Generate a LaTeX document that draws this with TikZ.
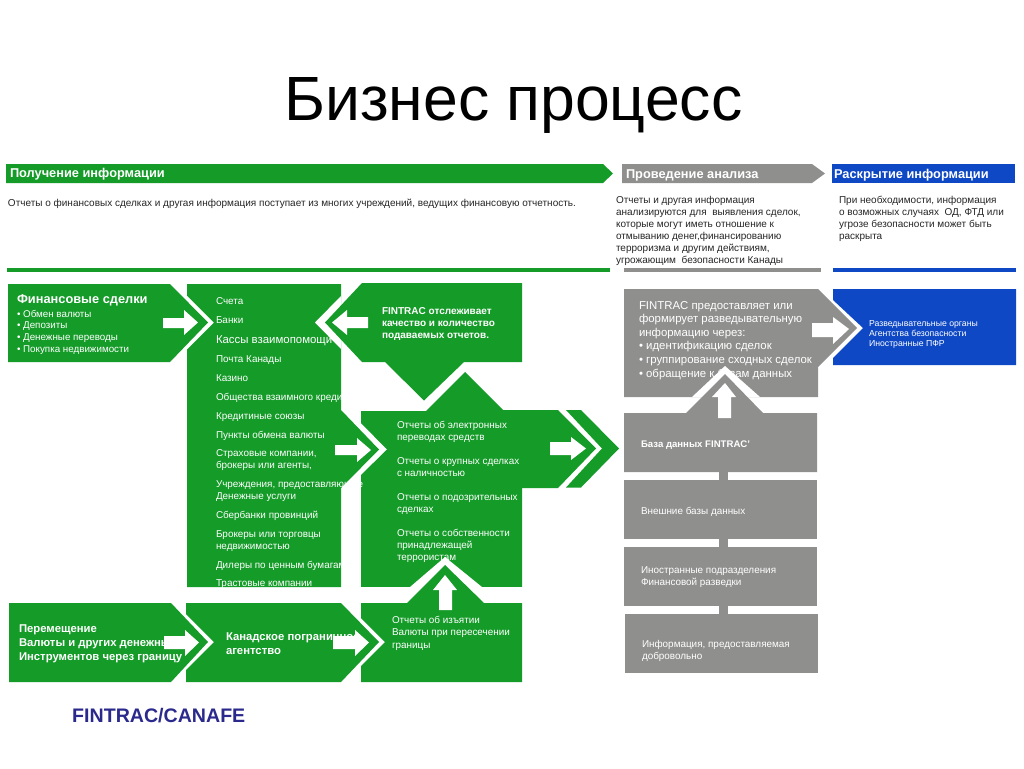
\documentclass[tikz,border=0pt]{standalone}
\usepackage{fontspec}
\setmainfont{Liberation Sans}
\definecolor{fgreen}{RGB}{20,155,40}
\definecolor{fgray}{RGB}{143,144,142}
\definecolor{fblue}{RGB}{14,72,196}
\definecolor{fnavy}{RGB}{43,42,140}
\newcommand\fsz[2]{\fontsize{#1}{#2}\selectfont}
\tikzset{
  gshape/.style={fill=fgreen,draw=none},
  yshape/.style={fill=fgray,draw=none},
  bshape/.style={fill=fblue,draw=none},
  wshape/.style={fill=white,draw=none},
  txt/.style={anchor=base west,inner sep=0pt,outer sep=0pt,align=left,text=white},
  dark/.style={txt,text=black!85,font=\fsz{10}{12}},
  item/.style={txt,font=\fsz{9.9}{12}},
  head/.style={txt,font=\bfseries\fsz{12.8}{14}},
  boldsm/.style={txt,font=\bfseries\fsz{10}{12}},
  boldbig/.style={txt,font=\bfseries\fsz{11.3}{14.3}},
  grayt/.style={txt,font=\fsz{9.9}{12}},
}
\begin{document}
\begin{tikzpicture}[x=1pt,y=-1pt]
\useasboundingbox (0,0) rectangle (1024,768);
\fill[white] (0,0) rectangle (1024,768);

\node[anchor=base west,inner sep=0pt,font=\fsz{62.5}{70},text=black] (title) at (284,120) {Бизнес процесс};

% header bars
\path[gshape] (6,164) -- (603,164) -- (613,173.5) -- (603,183) -- (6,183) -- cycle;
\path[yshape] (622,164) -- (812,164) -- (825,173.5) -- (812,183) -- (622,183) -- cycle;
\path[bshape] (832,164) rectangle (1015,183);
\node[head] (h1) at (10,177.5) {Получение информации};
\node[head] (h2) at (626,178) {Проведение анализа};
\node[head] (h3) at (834,178) {Раскрытие информации};

\node[dark] (d1) at (8,206) {Отчеты о финансовых сделках и другая информация поступает из многих учреждений, ведущих финансовую отчетность.};
\node[dark] (d2) at (616,263) {Отчеты и другая информация\\анализируются для\ \ выявления сделок,\\которые могут иметь отношение к\\отмыванию денег,финансированию\\терроризма и другим действиям,\\угрожающим\ \ безопасности Канады};
\node[dark] (d3) at (839,239) {При необходимости, информация\\о возможных случаях\ \ ОД, ФТД или\\угрозе безопасности может быть\\раскрыта};

% rules
\path[gshape] (7,268) rectangle (610,272);
\path[yshape] (624,268) rectangle (821,272);
\path[bshape] (833,268) rectangle (1016,272);

% green shapes
\path[gshape] (8,284) -- (170,284) -- (208,322.5) -- (170,362) -- (8,362) -- cycle;
\path[gshape] (187,284) -- (341,284) -- (341,410) -- (379,449.5) -- (341,488) -- (341,587) -- (187,587) -- (187,349.5) -- (214,322.5) -- (187,295.5) -- cycle;
\path[wshape] (341,296) -- (315,322.5) -- (341,349) -- cycle;
\path[gshape] (362,283) -- (522,283) -- (522,362) -- (464,362) -- (424,400.5) -- (385,362) -- (362,362) -- (325,322.5) -- cycle;
\path[gshape] (361,411) -- (426,411) -- (465,372) -- (503,410) -- (558,410) -- (596,448.5) -- (558,488) -- (522,488) -- (522,587) -- (361,587) -- (361,475) -- (387,449.5) -- (361,423) -- cycle;
\path[gshape] (566,410) -- (581,410) -- (619,448.5) -- (581,487.5) -- (566,487.5) -- (602,448.5) -- cycle;
\path[gshape] (9,603) -- (171,603) -- (208,642) -- (171,682) -- (9,682) -- cycle;
\path[gshape] (186,603) -- (341,603) -- (379,642) -- (341,682) -- (186,682) -- (186,670) -- (214,642) -- (186,614) -- cycle;

% grey and blue shapes
\path[yshape] (624,289) -- (818,289) -- (857,328) -- (818,367) -- (818,397) -- (624,397) -- cycle;
\path[bshape] (833,289) -- (1016,289) -- (1016,365) -- (833,365) -- (833,358) -- (863,328) -- (833,300) -- cycle;
\path[yshape] (719,472) rectangle (728,480);
\path[yshape] (719,539) rectangle (728,547);
\path[yshape] (719,606) rectangle (728,614);
\path[yshape] (624,480) rectangle (817,539);
\path[yshape] (624,547) rectangle (817,606);
\path[yshape] (625,614) rectangle (818,673);

% texts inside shapes
\node[txt,font=\bfseries\fsz{12.8}{14}] (f0) at (17,303.5) {Финансовые сделки};
\node[txt,font=\fsz{9.8}{11.8}] (f1) at (17,352.4) {• Обмен валюты\\• Депозиты\\• Денежные переводы\\• Покупка недвижимости};

\node[item] (b1) at (216,304) {Счета};
\node[item] (b2) at (216,323) {Банки};
\node[txt,font=\fsz{11.4}{12}] (b3) at (216,343) {Кассы взаимопомощи};
\node[item] (b4) at (216,362) {Почта Канады};
\node[item] (b5) at (216,381) {Казино};
\node[item] (b6) at (216,400) {Общества взаимного креди};
\node[item] (b7) at (216,419) {Кредитиные союзы};
\node[item] (b8) at (216,438) {Пункты обмена валюты};
\node[item] (b9) at (216,468.5) {Страховые компании,\\брокеры или агенты,};
\node[item] (b10) at (216,499) {Учреждения, предоставляющие\\Денежные услуги};
\node[item] (b11) at (216,518) {Сбербанки провинций};
\node[item] (b12) at (216,549) {Брокеры или торговцы\\недвижимостью};
\node[item] (b13) at (216,568) {Дилеры по ценным бумагам};
\node[item] (b14) at (216,586) {Трастовые компании};

\node[boldsm] (q) at (382,338.5) {FINTRAC отслеживает\\качество и количество\\подаваемых отчетов.};

\node[item] (r1) at (397,440.5) {Отчеты об электронных\\переводах средств};
\node[item] (r2) at (397,476.5) {Отчеты о крупных сделках\\с наличностью};
\node[item] (r3) at (397,512.5) {Отчеты о подозрительных\\сделках};
\node[item] (r4) at (397,560.5) {Отчеты о собственности\\принадлежащей\\террористам};

\node[boldbig] (m) at (19,660.6) {Перемещение\\Валюты и других денежных\\Инструментов через границу};
\node[boldbig] (c) at (226,654.8) {Канадское пограничное\\агентство};

\node[txt,font=\fsz{11.4}{13.6}] (g1) at (639,377) {FINTRAC предоставляет или\\формирует разведывательную\\информацию через:\\• идентификацию сделок\\• группирование сходных сделок\\• обращение к базам данных};

\node[txt,font=\fsz{8.7}{10.3}] (bl) at (869,346.6) {Разведывательные органы\\Агентства безопасности\\Иностранные ПФР};

\node[grayt] (g3) at (641,514) {Внешние базы данных};
\node[grayt] (g4) at (641,585.5) {Иностранные подразделения\\Финансовой разведки};
\node[grayt] (g5) at (642,659.5) {Информация, предоставляемая\\добровольно};

\node[anchor=base west,inner sep=0pt,text=fnavy,font=\bfseries\fsz{19.6}{20}] (logo) at (72,722) {FINTRAC/CANAFE};

% shapes on top of the texts
\path[wshape] (410,587) -- (445,557) -- (482,587) -- (522,587) -- (522,603) -- (361,603) -- (361,587) -- cycle;
\path[gshape] (361,603) -- (407,603) -- (445,565) -- (484,603) -- (522,603) -- (522,682) -- (361,682) -- (361,666) -- (385,642) -- (361,618) -- cycle;
\node[txt,font=\fsz{9.9}{12.5}] (s) at (392,648) {Отчеты об изъятии\\Валюты при пересечении\\границы};

\path[wshape] (692,397) -- (725,366) -- (760,397) -- cycle;
\path[yshape] (624,413) -- (686,413) -- (725,374) -- (763,413) -- (817,413) -- (817,472) -- (624,472) -- cycle;
\node[txt,font=\bfseries\fsz{9.6}{12}] (g2) at (641,447.5) {База данных FINTRAC’};

% white block arrows
\path[wshape] (163,318) -- (184,318) -- (184,310) -- (198,322.5) -- (184,335) -- (184,328) -- (163,328) -- cycle;
\path[wshape] (368,317) -- (347,317) -- (347,310) -- (332,322.5) -- (347,335) -- (347,328) -- (368,328) -- cycle;
\path[wshape] (335,445) -- (357,445) -- (357,438) -- (371,450) -- (357,462) -- (357,455) -- (335,455) -- cycle;
\path[wshape] (550,442) -- (571,442) -- (571,437) -- (586,448.5) -- (571,460) -- (571,455) -- (550,455) -- cycle;
\path[wshape] (164,636) -- (185,636) -- (185,630) -- (199,642.5) -- (185,656) -- (185,649) -- (164,649) -- cycle;
\path[wshape] (333,636) -- (355,636) -- (355,630) -- (369,642.5) -- (355,656) -- (355,649) -- (333,649) -- cycle;
\path[wshape] (439,610) -- (439,590) -- (433,590) -- (445,575) -- (457,590) -- (452,590) -- (452,610) -- cycle;
\path[wshape] (812,323) -- (833,323) -- (833,317) -- (849,329) -- (833,344) -- (833,337) -- (812,337) -- cycle;
\path[wshape] (718,418) -- (718,397) -- (712,397) -- (725,383) -- (736,397) -- (731,397) -- (731,418) -- cycle;
\end{tikzpicture}
\end{document}
